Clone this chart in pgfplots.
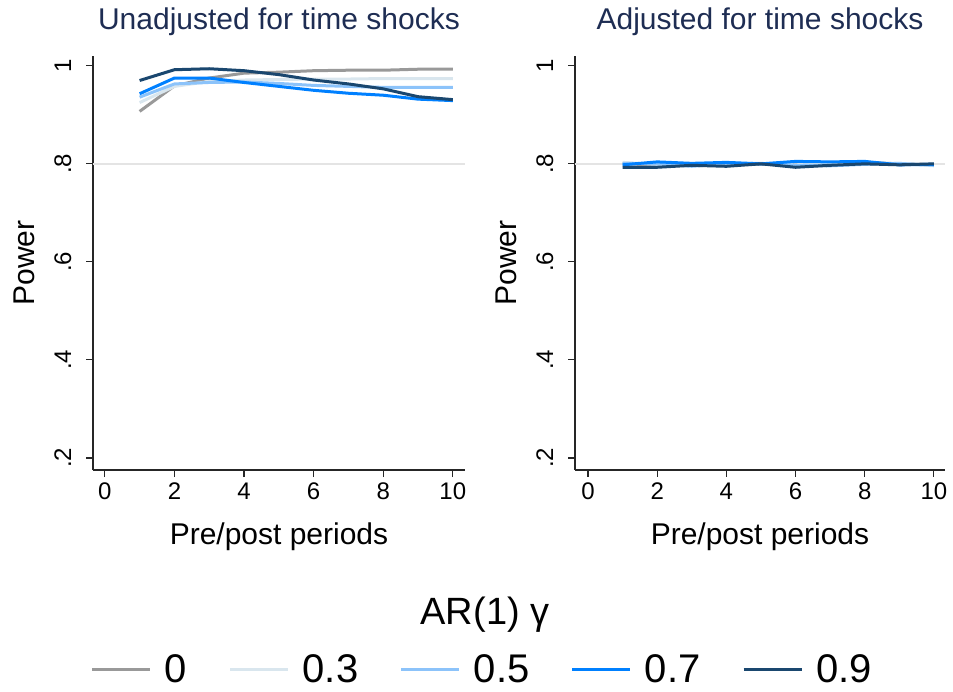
\documentclass[border=0pt]{standalone}
\usepackage{pgfplots}
\pgfplotsset{compat=1.18}
\usepackage{fontspec}
\setmainfont{Liberation Sans}
\definecolor{c0}{RGB}{153,153,153}
\definecolor{c3}{RGB}{217,230,238}
\definecolor{c5}{RGB}{140,195,250}
\definecolor{c7}{RGB}{0,128,255}
\definecolor{c9}{RGB}{26,71,111}
\definecolor{tcol}{RGB}{30,45,83}
\definecolor{refl}{RGB}{228,228,228}
\pgfplotsset{
  panel/.style={
    scale only axis,
    /pgf/number format/assume math mode=true,
    axis lines*=left,
    axis line style={black!85,line width=1.1pt,-},
    tick style={black!85,line width=1.1pt},
    tick align=outside,
    major tick length=7pt,
    ymin=0.1755, ymax=1.02,
    ytick={0.2,0.4,0.6,0.8,1},
    yticklabels={.2,.4,.6,.8,1},
    xtick={0,2,4,6,8,10},
    ticklabel style={font=\fontsize{24}{28}\selectfont},
    yticklabel style={rotate=90,anchor=base,yshift=15pt},
    xticklabel style={anchor=base,yshift=-22pt},
    title style={font=\fontsize{30}{36}\selectfont,text=tcol,at={(0.5,1)},anchor=base,yshift=20pt},
    xlabel style={font=\fontsize{30}{36}\selectfont,at={(axis description cs:0.5,0)},anchor=base,yshift=-74pt},
    ylabel style={font=\fontsize{30}{36}\selectfont,rotate=0,anchor=base},
    xlabel={Pre/post periods},
    ylabel={Power},
    every axis plot/.append style={line width=3pt,no markers,line join=round},
  }
}
\begin{document}
\begin{tikzpicture}[x=1pt,y=1pt]
\useasboundingbox (0,0) rectangle (953,691);
\begin{axis}[panel,
  at={(93pt,221pt)}, anchor=south west,
  width=372pt, height=414pt,
  xmin=-0.34, xmax=10.35,
  title={Unadjusted for time shocks},
  ylabel style={at={(axis description cs:-0.156,0.5)}},
  legend columns=5,
  legend style={at={(axis description cs:-0.006,-0.482)},anchor=west,draw=none,inner sep=0pt,
    font=\fontsize{40}{48}\selectfont,
    nodes={inner sep=0pt},
    /tikz/every odd column/.append style={column sep=13pt},
    /tikz/every even column/.append style={column sep=41.5pt}},
  legend image code/.code={\draw[#1,line width=3pt] (0pt,0pt) -- (58pt,0pt);},
]
\addplot[refl,line width=1.5pt,forget plot] coordinates {(-0.34,0.8) (10.35,0.8)};
\addplot[c0] coordinates {(1,0.907)(2,0.959)(3,0.975)(4,0.985)(5,0.987)(6,0.990)(7,0.991)(8,0.991)(9,0.993)(10,0.993)};
\addplot[c3] coordinates {(1,0.925)(2,0.958)(3,0.968)(4,0.971)(5,0.972)(6,0.973)(7,0.973)(8,0.974)(9,0.974)(10,0.974)};
\addplot[c5] coordinates {(1,0.936)(2,0.963)(3,0.966)(4,0.967)(5,0.964)(6,0.960)(7,0.958)(8,0.956)(9,0.956)(10,0.956)};
\addplot[c7] coordinates {(1,0.943)(2,0.975)(3,0.975)(4,0.966)(5,0.958)(6,0.950)(7,0.944)(8,0.940)(9,0.932)(10,0.929)};
\addplot[c9] coordinates {(1,0.970)(2,0.992)(3,0.994)(4,0.990)(5,0.982)(6,0.971)(7,0.963)(8,0.953)(9,0.937)(10,0.931)};
\legend{0,0.3,0.5,0.7,0.9}
\end{axis}
\begin{axis}[panel,
  at={(575pt,221pt)}, anchor=south west,
  width=370pt, height=414pt,
  xmin=-0.376, xmax=10.32,
  title={Adjusted for time shocks},
  ylabel style={at={(axis description cs:-0.157,0.5)}},
]
\addplot[refl,line width=1.5pt] coordinates {(-0.376,0.8) (10.32,0.8)};
\addplot[c0] coordinates {(1,0.800)(2,0.798)(3,0.800)(4,0.801)(5,0.799)(6,0.801)(7,0.798)(8,0.803)(9,0.800)(10,0.798)};
\addplot[c3] coordinates {(1,0.803)(2,0.799)(3,0.797)(4,0.802)(5,0.800)(6,0.798)(7,0.801)(8,0.800)(9,0.801)(10,0.796)};
\addplot[c5] coordinates {(1,0.801)(2,0.800)(3,0.795)(4,0.800)(5,0.801)(6,0.797)(7,0.796)(8,0.799)(9,0.801)(10,0.797)};
\addplot[c7] coordinates {(1,0.798)(2,0.804)(3,0.801)(4,0.803)(5,0.800)(6,0.805)(7,0.804)(8,0.805)(9,0.798)(10,0.799)};
\addplot[c9] coordinates {(1,0.793)(2,0.793)(3,0.797)(4,0.795)(5,0.800)(6,0.793)(7,0.797)(8,0.800)(9,0.798)(10,0.800)};
\end{axis}
\node[font=\fontsize{38}{46}\selectfont,anchor=center] at (485,76) {AR(1) γ};
\end{tikzpicture}
\end{document}
